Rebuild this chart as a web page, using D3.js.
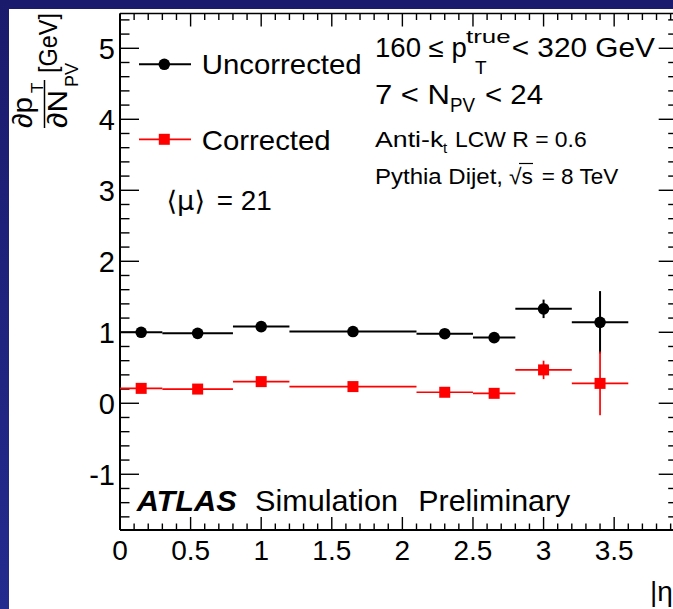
<!DOCTYPE html>
<html><head><meta charset="utf-8">
<script src="https://cdn.jsdelivr.net/npm/d3@7"></script>
<style>
html,body{margin:0;padding:0;background:#fff;}
svg{display:block;}
text{font-family:"Liberation Sans",Arial,Helvetica,sans-serif;fill:#000;}
</style></head>
<body>
<script>
// ---- data ----
const etaLow    = [0.0, 0.3, 0.8, 1.2, 2.1, 2.5, 2.8, 3.2];
const etaHigh   = [0.3, 0.8, 1.2, 2.1, 2.5, 2.8, 3.2, 3.6];
const etaCenter = [0.15, 0.55, 1.0, 1.65, 2.3, 2.65, 3.0, 3.4];
const uncorrected    = [1.00, 0.985, 1.08, 1.01, 0.98, 0.925, 1.33, 1.14];
const uncorrectedErr = [0.02, 0.02, 0.02, 0.02, 0.03, 0.03, 0.13, 0.44];
const corrected      = [0.21, 0.20, 0.305, 0.235, 0.155, 0.14, 0.47, 0.28];
const correctedErr   = [0.02, 0.02, 0.02, 0.02, 0.03, 0.03, 0.13, 0.45];
const xTickValues = [0, 0.5, 1, 1.5, 2, 2.5, 3, 3.5];
const xTickLabels = ["0", "0.5", "1", "1.5", "2", "2.5", "3", "3.5"];
const yTickValues = [-1, 0, 1, 2, 3, 4, 5];
const yTickLabels = ["-1", "0", "1", "2", "3", "4", "5"];
const seriesNames = ["Uncorrected", "Corrected"];

const W = 673, H = 609;
const svg = d3.select("body").append("svg").attr("width", W).attr("height", H);

// background frame strips
const defs = svg.append("defs");
const lg = defs.append("linearGradient").attr("id","lg").attr("x1",0).attr("y1",0).attr("x2",0).attr("y2",1);
lg.append("stop").attr("offset","0%").attr("stop-color","#1b1b6c");
lg.append("stop").attr("offset","100%").attr("stop-color","#232b8e");
svg.append("rect").attr("x",0).attr("y",0).attr("width",W).attr("height",9).attr("fill","#1b1b6d");
svg.append("rect").attr("x",0).attr("y",0).attr("width",9).attr("height",H).attr("fill","url(#lg)");

const x = d3.scaleLinear().domain([0, 3.95]).range([120, 677.7]);
const y = d3.scaleLinear().domain([-1.785, 5.49]).range([530, 13.5]);
const [x0, x1] = x.range();
const [y0, y1] = y.range();

// minor tick values
const xMinor = d3.range(0, 3.95, 0.1).filter(v => Math.abs(v*2 - Math.round(v*2)) > 1e-6);
const yMinor = d3.range(-1.6, 5.49, 0.2).filter(v => Math.abs(v - Math.round(v)) > 1e-6);

const axG = svg.append("g").attr("stroke","#000");
function ticks(vals, len, width){
  vals.forEach(v => {
    const px = x(v);
    axG.append("line").attr("x1",px).attr("x2",px).attr("y1",y0).attr("y2",y0-len).attr("stroke-width",width);
    axG.append("line").attr("x1",px).attr("x2",px).attr("y1",y1).attr("y2",y1+len).attr("stroke-width",width);
  });
}
function yticks(vals, len, width){
  vals.forEach(v => {
    const py = y(v);
    axG.append("line").attr("x1",x0).attr("x2",x0+len).attr("y1",py).attr("y2",py).attr("stroke-width",width);
    axG.append("line").attr("x1",x1).attr("x2",x1-len).attr("y1",py).attr("y2",py).attr("stroke-width",width);
  });
}
ticks(xTickValues.concat([4]), 13, 1.4);
ticks(xMinor, 6.5, 1.4);
yticks(yTickValues, 19, 1.4);
yticks(yMinor, 9.5, 1.4);
// frame
axG.append("line").attr("x1",x0).attr("x2",x1).attr("y1",y0).attr("y2",y0).attr("stroke-width",2);
axG.append("line").attr("x1",x0).attr("x2",x1).attr("y1",y1).attr("y2",y1).attr("stroke-width",1.6);
axG.append("line").attr("x1",x0).attr("x2",x0).attr("y1",y0).attr("y2",y1).attr("stroke-width",2);

// tick labels
svg.append("g").selectAll("text").data(xTickValues).join("text")
  .attr("x", d => x(d)).attr("y", 560).attr("text-anchor","middle")
  .attr("font-size", 28).text((d,i) => xTickLabels[i]);
svg.append("g").selectAll("text").data(yTickValues).join("text")
  .attr("x", 115).attr("y", d => y(d) + 11).attr("text-anchor","end")
  .attr("font-size", 29).text((d,i) => yTickLabels[i]);

// axis titles
svg.append("text").attr("x",650).attr("y",601).attr("font-size",28).text("|η");
const yt = svg.append("g").attr("transform","translate(0,128) rotate(-90)");
yt.append("text").attr("x",0).attr("y",32).attr("font-size",28).attr("textLength",31).attr("lengthAdjust","spacingAndGlyphs").text("∂p");
yt.append("text").attr("x",35).attr("y",43).attr("font-size",17).text("T");
yt.append("line").attr("x1",0).attr("x2",48).attr("y1",44.5).attr("y2",44.5).attr("stroke","#000").attr("stroke-width",1.5);
yt.append("text").attr("x",0).attr("y",67).attr("font-size",28).attr("textLength",38).attr("lengthAdjust","spacingAndGlyphs").text("∂N");
yt.append("text").attr("x",41).attr("y",78).attr("font-size",18).attr("textLength",24).attr("lengthAdjust","spacingAndGlyphs").text("PV");
yt.append("text").attr("x",55).attr("y",57).attr("font-size",26).attr("textLength",60).attr("lengthAdjust","spacingAndGlyphs").text("[GeV]");

// data series
const series = [
  {vals: uncorrected, errs: uncorrectedErr, color: "#000", shape: "circle", lw: 2},
  {vals: corrected, errs: correctedErr, color: "#ff0000", shape: "square", lw: 1.7}
];
series.forEach(s => {
  const g = svg.append("g");
  etaCenter.forEach((c, i) => {
    g.append("line").attr("x1", x(etaLow[i])).attr("x2", x(etaHigh[i]))
      .attr("y1", y(s.vals[i])).attr("y2", y(s.vals[i])).attr("stroke", s.color).attr("stroke-width", s.lw);
    g.append("line").attr("x1", x(c)).attr("x2", x(c))
      .attr("y1", y(s.vals[i] - s.errs[i])).attr("y2", y(s.vals[i] + s.errs[i]))
      .attr("stroke", s.color).attr("stroke-width", s.lw);
    if (s.shape === "circle") g.append("circle").attr("cx", x(c)).attr("cy", y(s.vals[i])).attr("r", 5.8).attr("fill", s.color);
    else g.append("rect").attr("x", x(c)-5.5).attr("y", y(s.vals[i])-5.5).attr("width", 11).attr("height", 11).attr("fill", s.color);
  });
});

// legend
const legY = [64.3, 139.3];
series.forEach((s, i) => {
  svg.append("line").attr("x1",139).attr("x2",191).attr("y1",legY[i]).attr("y2",legY[i]).attr("stroke",s.color).attr("stroke-width",s.lw);
  if (s.shape === "circle") svg.append("circle").attr("cx",164.3).attr("cy",legY[i]).attr("r",5.8).attr("fill",s.color);
  else svg.append("rect").attr("x",164.3-5.5).attr("y",legY[i]-5.5).attr("width",11).attr("height",11).attr("fill",s.color);
});
svg.append("text").attr("x",201.7).attr("y",74).attr("font-size",28).attr("textLength",160).attr("lengthAdjust","spacingAndGlyphs").text(seriesNames[0]);
svg.append("text").attr("x",201.7).attr("y",149.5).attr("font-size",28).attr("textLength",129).attr("lengthAdjust","spacingAndGlyphs").text(seriesNames[1]);

// <mu>
svg.append("text").attr("x",166.5).attr("y",209.5).attr("font-size",27).style("font-family","DejaVu Sans")
  .attr("textLength",38.5).attr("lengthAdjust","spacingAndGlyphs").text("⟨μ⟩");
svg.append("text").attr("x",216.7).attr("y",209.5).attr("font-size",27).attr("textLength",55).attr("lengthAdjust","spacingAndGlyphs").text("= 21");

// top-right labels
function t(xp, yp, size, str, len){
  const e = svg.append("text").attr("x",xp).attr("y",yp).attr("font-size",size).text(str);
  if (len) e.attr("textLength",len).attr("lengthAdjust","spacingAndGlyphs");
  return e;
}
t(375, 57.3, 27, "160 ≤ p", 91.7);
t(466, 43, 19, "true", 44.7);
t(475, 74, 19, "T");
t(511.7, 57.3, 27, "< 320 GeV", 143.3);
t(375, 104, 28, "7 < N", 75);
t(450, 111.7, 20, "PV", 25);
t(485, 104, 28, "< 24", 58);
t(375, 146.7, 22, "Anti-k", 68.3);
t(443, 153.3, 15, "t");
t(455, 146.7, 22, "LCW R = 0.6", 131.7);
t(375, 184, 22, "Pythia Dijet, ", 128);
t(509, 184, 22, "√s", 24);
svg.append("line").attr("x1",519).attr("x2",533).attr("y1",163.5).attr("y2",163.5).attr("stroke","#000").attr("stroke-width",1.2);
t(541.7, 184, 22, "= 8 TeV", 76.6);

// ATLAS label
t(136.7, 510.7, 30, "ATLAS", 100).attr("font-weight","bold").attr("font-style","italic");
t(255, 510.7, 30, "Simulation", 143);
t(418.3, 510.7, 30, "Preliminary", 152);
</script>
</body></html>
